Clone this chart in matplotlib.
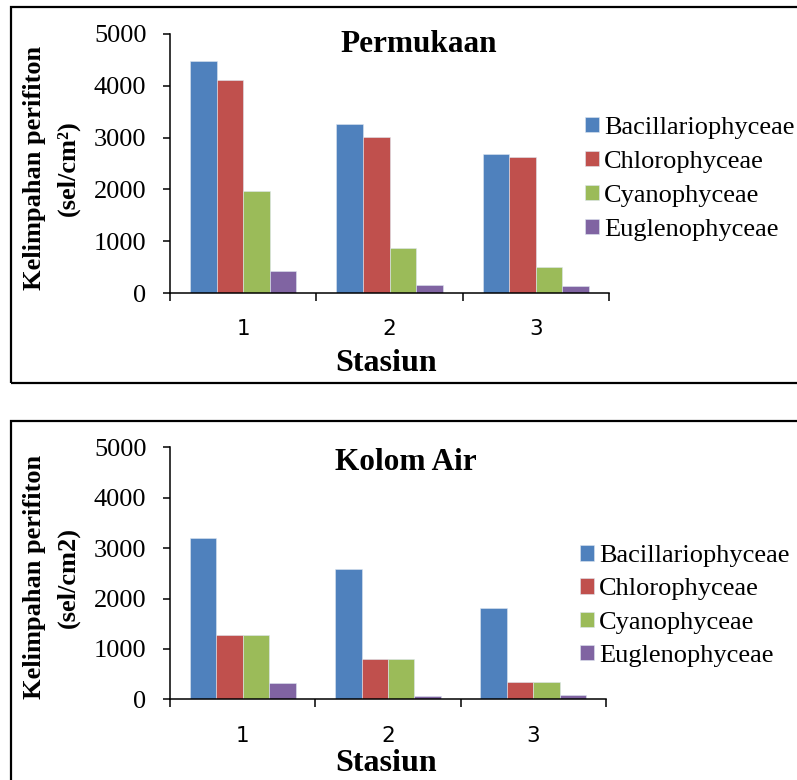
import matplotlib
matplotlib.use("Agg")
import matplotlib.pyplot as plt
import numpy as np
from matplotlib.patches import Rectangle
from matplotlib.ticker import FixedLocator

plt.rcParams['font.family'] = ['Liberation Serif', 'DejaVu Serif']

stations = ["1", "2", "3"]
classes = ["Bacillariophyceae", "Chlorophyceae", "Cyanophyceae", "Euglenophyceae"]
colors = ["#4F81BD", "#C0504D", "#9BBB59", "#8064A2"]

# abundance per class, stations 1..3
permukaan = [
    [4470, 3270, 2680],   # Bacillariophyceae
    [4110, 3010, 2630],   # Chlorophyceae
    [1960, 870, 500],     # Cyanophyceae
    [430, 150, 130],      # Euglenophyceae
]
kolom_air = [
    [3200, 2590, 1820],
    [1270, 800, 345],
    [1270, 800, 345],
    [320, 65, 80],
]

W, H = 797, 780
fig = plt.figure(figsize=(W / 100, H / 100), dpi=100)


def px(x0, y0, x1, y1):
    # pixel box (top-left origin) -> figure fraction rect
    return [x0 / W, 1 - y1 / H, (x1 - x0) / W, (y1 - y0) / H]


def panel(data, ax_box, frame_box, title, title_xy, stasiun_xy, ylab_y, ylab2, leg_xy, leg_sp):
    # outer frame
    fx0, fy0, fx1, fy1 = frame_box
    fig.patches.append(Rectangle((fx0 / W, 1 - fy1 / H), (fx1 - fx0) / W, (fy1 - fy0) / H,
                                 transform=fig.transFigure, fill=False,
                                 edgecolor="black", linewidth=1.6, clip_on=False))
    ax = fig.add_axes(px(*ax_box))
    x = np.arange(len(stations))
    w = 1 / 5.5
    for i, (vals, c, name) in enumerate(zip(data, colors, classes)):
        ax.bar(x + (i - 1.5) * w, vals, w, color=c, label=name,
               edgecolor="#dde6f0", linewidth=0.4)
    ax.set_xlim(-0.5, 2.5)
    ax.set_ylim(0, 5000)
    ax.set_yticks([0, 1000, 2000, 3000, 4000, 5000])
    ax.tick_params(axis='y', labelsize=19, length=5, width=1.1, pad=12)
    ax.set_xticks(x)
    ax.set_xticklabels(stations, fontfamily="DejaVu Sans")
    ax.tick_params(axis='x', which='major', length=0, labelsize=15.5, pad=19)
    ax.xaxis.set_minor_locator(FixedLocator([-0.5, 0.5, 1.5, 2.5]))
    ax.tick_params(axis='x', which='minor', length=6, width=1.1, direction='out')
    for s in ("top", "right"):
        ax.spines[s].set_visible(False)
    for s in ("left", "bottom"):
        ax.spines[s].set_linewidth(1.1)

    fig.text(title_xy[0] / W, 1 - title_xy[1] / H, title, fontsize=22.5,
             fontweight="bold", ha="center", va="baseline")
    fig.text(stasiun_xy[0] / W, 1 - stasiun_xy[1] / H, "Stasiun", fontsize=23,
             fontweight="bold", ha="center", va="baseline")
    fig.text(35 / W, 1 - ylab_y / H, "Kelimpahan perifiton", fontsize=19,
             fontweight="bold", rotation=90, ha="center", va="center")
    fig.text(68 / W, 1 - ylab_y / H, ylab2, fontsize=19,
             fontweight="bold", rotation=90, ha="center", va="center")

    ax.legend(loc="center left", bbox_to_anchor=(leg_xy[0] / W, 1 - leg_xy[1] / H),
              bbox_transform=fig.transFigure, frameon=False, fontsize=19,
              handlelength=0.53, handleheight=0.53, handletextpad=0.2,
              labelspacing=leg_sp, borderpad=0, borderaxespad=0)
    return ax


panel(permukaan, (170, 34, 609, 293), (11, 7, 803, 383), "Permukaan",
      (419, 52), (386, 371), 168, "(sel/cm²)", (585, 179), 0.45)
panel(kolom_air, (170, 447.3, 606, 699.3), (11, 421, 803, 790), "Kolom Air",
      (406, 470), (386, 771), 577, "(sel/cm2)", (580, 606), 0.42)

fig.savefig("out.png", dpi=100, facecolor="white")
